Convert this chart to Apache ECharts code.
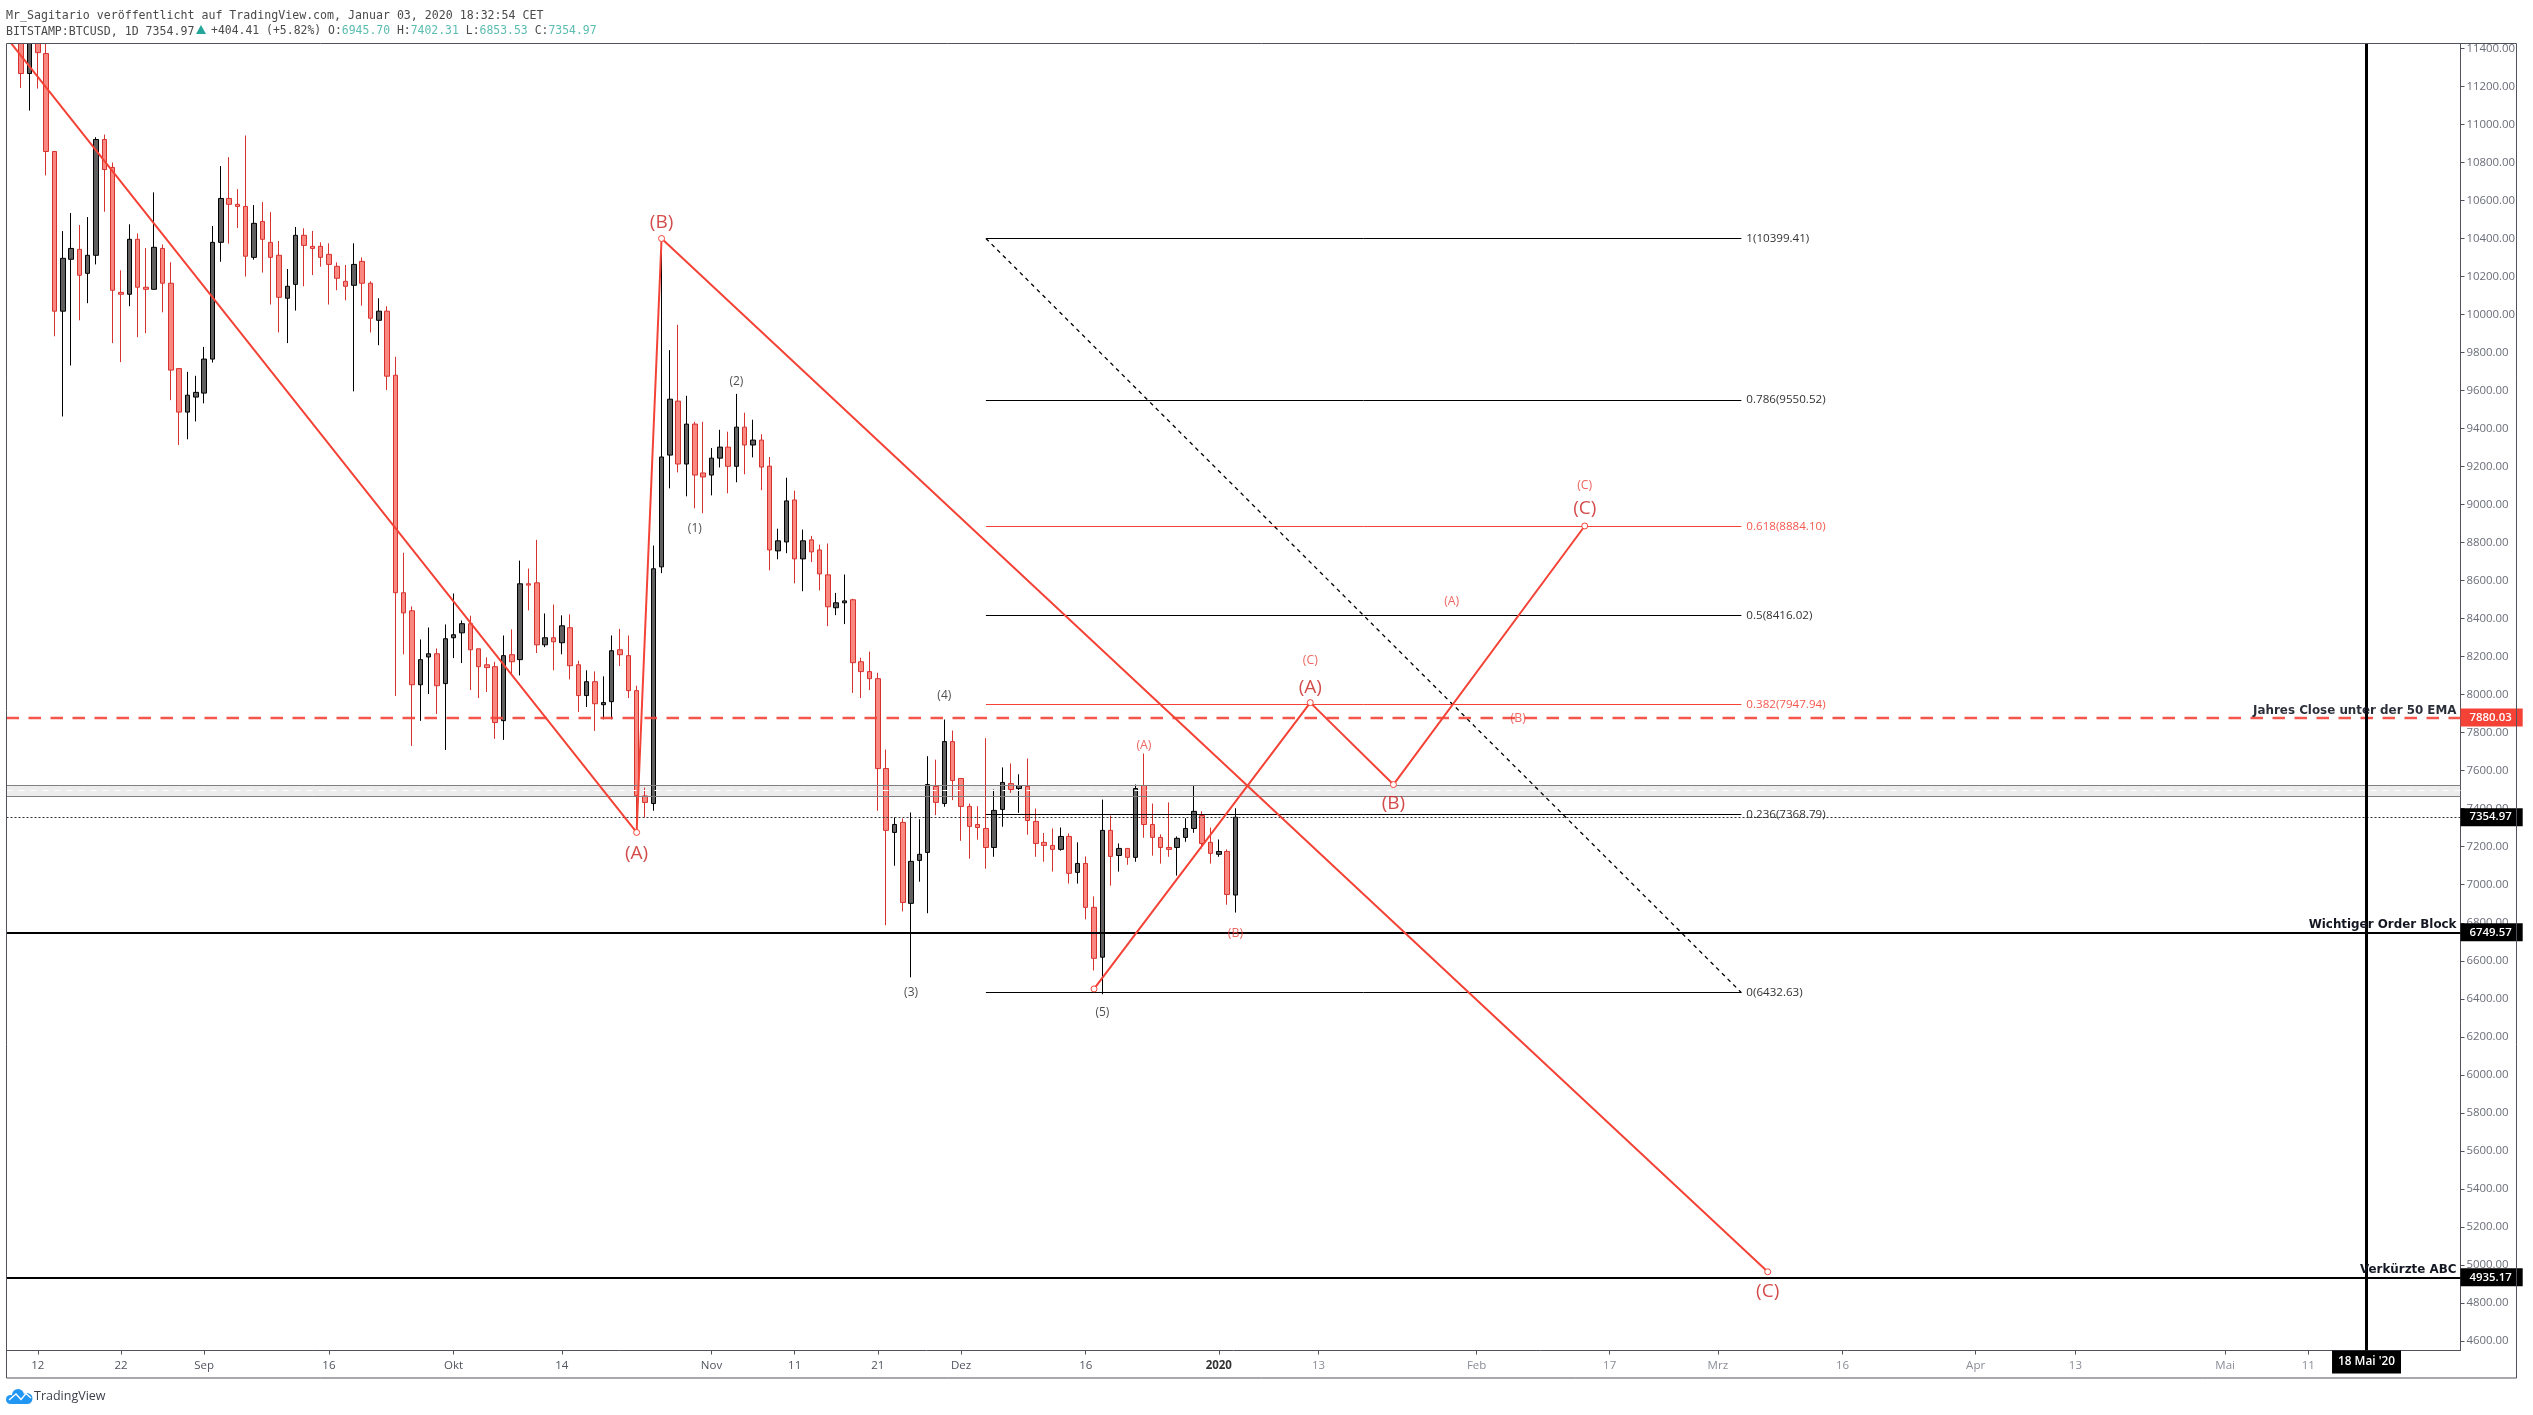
<!DOCTYPE html>
<html>
<head>
<meta charset="utf-8">
<title>BTCUSD daily</title>
<script src="https://cdn.jsdelivr.net/npm/echarts@6/dist/echarts.min.js"></script>
<style>
html, body { margin: 0; padding: 0; background: #fff; }
#chart { width: 2533px; height: 1415px; }
</style>
</head>
<body>
<div id="chart"></div>
<script>
// Daily BTCUSD bars, first bar on 2019-08-10, one bar per calendar day.
const firstBarDay = '2019-08-10';
const opens = [11550,11267,11500,11372,10857,10017,10290,10342,10216,10311,10920,10773,10116,10106,10395,10143,10132,10347,10164,9715,9486,9565,9586,9765,10379,10610,10579,10568,10300,10489,10379,10311,10085,10158,10416,10358,10358,10316,10253,10174,10153,10279,10164,9969,10017,9680,8536,8441,8052,8198,8215,8058,8299,8325,8373,8241,8157,8147,7863,8210,8184,8583,8588,8262,8299,8273,8352,8157,7995,8068,7947,7963,8236,8205,8021,7467,7427,8672,9260,9544,9213,9423,9166,9155,9244,9302,9201,9407,9313,9339,9202,8756,8803,9024,8714,8814,8761,8630,8457,8483,8499,8173,8121,8084,7611,7275,7328,6902,7128,7170,7517,7427,7753,7559,7412,7317,7296,7196,7396,7532,7506,7517,7333,7223,7207,7186,7254,7065,7112,6881,6619,7286,7154,7191,7144,7522,7317,7249,7196,7196,7249,7296,7364,7223,7160,7175,6945.7];
const closes = [11267,11500,11377,10857,10017,10295,10347,10206,10311,10920,10762,10127,10106,10395,10143,10132,10353,10164,9707,9486,9575,9590,9765,10379,10610,10579,10568,10306,10479,10395,10300,10090,10148,10416,10363,10347,10300,10263,10190,10148,10263,10164,9980,10017,9675,8536,8430,8052,8184,8215,8047,8294,8315,8373,8236,8147,8142,7853,8205,8173,8583,8576,8262,8299,8278,8362,8152,7995,8068,7952,7958,8231,8210,8021,7469,7433,8662,9250,9554,9213,9423,9155,9145,9244,9302,9201,9407,9313,9339,9197,8761,8809,9019,8714,8809,8751,8635,8462,8483,8493,8168,8121,8084,7611,7286,7317,6907,7123,7160,7527,7433,7753,7548,7412,7307,7301,7196,7391,7538,7501,7522,7338,7217,7207,7186,7254,7060,7112,6881,6613,7286,7149,7191,7144,7506,7317,7249,7196,7186,7244,7296,7386,7217,7165,7175,6949,7354.97];
const lows = [11191,11072,11188,10731,9885,9463,9731,9969,10059,10263,10540,9849,9749,10043,9880,9901,10132,10011,9549,9313,9343,9437,9532,9747,10277,10372,10454,10199,10288,10220,10052,9905,9849,10020,10148,10207,10251,10052,10127,10074,9595,10046,9905,9838,9602,7993,8212,7730,7862,8003,7898,7709,8192,8166,8024,7982,8014,7767,7762,8110,8101,8443,8219,8250,8128,8212,8080,7909,7935,7809,7870,7870,8150,7982,7300,7354,7389,8639,9085,9169,9043,8980,8954,9048,9195,9059,9117,9159,9248,9075,8654,8712,8744,8586,8544,8697,8548,8360,8418,8371,8009,7982,8024,7389,6787,7100,6860,6513,7016,6850,7366,7410,7445,7231,7137,7237,7084,7147,7305,7483,7378,7263,7147,7121,7069,7179,7006,7006,6818,6549,6424,6995,7069,7105,7121,7247,7153,7111,7147,7048,7226,7273,7191,7111,7147,6895,6853.53];
const highs = [11620,11640,11560,11430,10860,10438,10533,10470,10512,10932,10946,10799,10232,10474,10426,10349,10642,10368,10274,9715,9698,9677,9829,10465,10780,10827,10659,10941,10575,10591,10538,10386,10239,10460,10453,10439,10379,10374,10274,10260,10374,10300,10174,10085,10043,9777,8746,8464,8290,8353,8243,8369,8532,8390,8415,8241,8196,8173,8311,8343,8705,8663,8814,8427,8474,8417,8422,8178,8128,8122,8096,8311,8346,8311,8047,7511,8784,10399,9812,9945,9572,9435,9435,9297,9393,9383,9582,9483,9446,9370,9250,8873,9141,9073,8868,8835,8789,8795,8535,8632,8504,8194,8226,8115,7711,7354,7349,7380,7345,7676,7658,7869,7811,7559,7427,7413,7771,7501,7617,7638,7581,7664,7401,7272,7296,7301,7270,7223,7149,6939,7448,7364,7217,7191,7527,7690,7427,7265,7433,7254,7350,7524,7386,7301,7238,7186,7402.31];

// Axis window and tick labels.
const axisStart = '2019-08-08T05:40:00Z';
const axisEnd = '2020-05-29T07:12:00Z';
const priceMin = 4550;
const priceMax = 11425;
const priceTicks = [4600,4800,5000,5200,5400,5600,5800,6000,6200,6400,6600,6800,7000,7200,7400,7600,7800,8000,8200,8400,8600,8800,9000,9200,9400,9600,9800,10000,10200,10400,10600,10800,11000,11200,11400];
const timeTickDays = ['2019-08-12','2019-08-22','2019-09-01','2019-09-16','2019-10-01','2019-10-14','2019-11-01','2019-11-11','2019-11-21','2019-12-01','2019-12-16','2020-01-01','2020-01-13','2020-02-01','2020-02-17','2020-03-01','2020-03-16','2020-04-01','2020-04-13','2020-05-01','2020-05-11'];
const timeTickTexts = ['12','22','Sep','16','Okt','14','Nov','11','21','Dez','16','2020','13','Feb','17','Mrz','16','Apr','13','Mai','11'];

// Elliott wave paths: date and price of each pivot.
const waveDownDays = ['2019-08-08','2019-10-23','2019-10-26','2020-03-07'];
const waveDownPrices = [11470,7275,10399.41,4964];
const waveUpDays = ['2019-12-17','2020-01-12','2020-01-22','2020-02-14'];
const waveUpPrices = [6452,7958,7527,8887];

// Fibonacci retracement drawn between two anchor dates.
const fibStartDay = '2019-12-04';
const fibEndDay = '2020-03-03T20:00:00Z';
const fibRatios = ['1','0.786','0.618','0.5','0.382','0.236','0'];
const fibPrices = [10399.41,9550.52,8884.10,8416.02,7947.94,7368.79,6432.63];
const fibIsRed = [false,false,true,false,true,false,false];

// Horizontal price levels with their captions.
const emaLevel = 7880.03;
const emaCaption = 'Jahres Close unter der 50 EMA';
const orderBlockLevel = 6749.57;
const orderBlockCaption = 'Wichtiger Order Block';
const abcLevel = 4935.17;
const abcCaption = 'Verkürzte ABC';
const lastClose = 7354.97;
const zoneTop = 7525;
const zoneBottom = 7465;
const markerDay = '2020-05-18';
const markerText = "18 Mai '20";

// Wave count captions: [date, price, text].
const countLabels = [['2019-10-30',8873,'(1)'],['2019-11-04',9645,'(2)'],['2019-11-25',6431,'(3)'],['2019-11-29',7996,'(4)'],['2019-12-18',6325,'(5)']];
const minorLabels = [['2019-12-23',7734,'(A)'],['2020-01-03',6741,'(B)'],['2020-01-12',8180,'(C)'],['2020-01-29',8490,'(A)'],['2020-02-06',7876,'(B)'],['2020-02-14',9099,'(C)']];
const majorLabels = [['2019-10-23',7165,'(A)'],['2019-10-26',10485,'(B)'],['2020-01-12',8038,'(A)'],['2020-01-22',7429,'(B)'],['2020-02-14',8978,'(C)'],['2020-03-07',4862,'(C)']];

const RED = '#f44336';
const AXIS_COLOR = '#50535e';
const UI_FONT = '"Open Sans", "Noto Sans", sans-serif';
const MONO_FONT = '"DejaVu Sans Mono", monospace';

const toMs = s => new Date(s.length === 10 ? s + 'T00:00:00Z' : s).getTime();
const DAY_MS = 86400000;

const candles = opens.map((o, i) => [toMs(firstBarDay) + i * DAY_MS, o, closes[i], lows[i], highs[i]]);
const tickMs = timeTickDays.map(toMs);
const tickTextByMs = {};
tickMs.forEach((ms, i) => { tickTextByMs[ms] = timeTickTexts[i]; });
const lastBarMs = candles[candles.length - 1][0];

function horizontal(price, style, label) {
  return { yAxis: price, lineStyle: style, label: label || { show: false } };
}
function priceBox(price, text, bg) {
  return horizontal(price, { color: 'transparent', width: 0 }, {
    show: true, position: 'end', distance: 0, formatter: text, color: '#fff',
    backgroundColor: bg, fontFamily: UI_FONT, fontSize: 11.4, fontWeight: 600,
    padding: [3, 11, 2, 9], lineHeight: 13
  });
}
function captionOnLine(price, text, style) {
  return horizontal(price, style, {
    show: true, position: 'insideEndTop', distance: 1, formatter: text, color: '#131722',
    fontFamily: '"DejaVu Sans", sans-serif', fontSize: 11.9, fontWeight: 'bold', padding: [0, 3, 0, 0]
  });
}
function labelSeries(name, rows, color, size, z) {
  return {
    name, type: 'scatter', symbolSize: 1, z, silent: true,
    itemStyle: { color: 'rgba(0,0,0,0)' },
    data: rows.map(r => [toMs(r[0]), r[1], r[2]]),
    label: { show: true, position: 'inside', color, fontSize: size, fontFamily: UI_FONT, formatter: p => p.data[2] }
  };
}
function waveSeries(name, days, prices) {
  return {
    name, type: 'line', z: 6, animation: false, showAllSymbol: true, symbol: 'circle', symbolSize: 6,
    lineStyle: { color: RED, width: 2 },
    itemStyle: { color: '#fff', borderColor: RED, borderWidth: 1 },
    data: days.map((d, i) => [toMs(d), prices[i]])
  };
}

const fibPairs = fibPrices.map((price, i) => {
  const color = fibIsRed[i] ? RED : '#000';
  return [
    { coord: [toMs(fibStartDay), price], lineStyle: { color, width: 1, type: 'solid' },
      label: { show: true, position: 'end', distance: 5, formatter: fibRatios[i] + '(' + price.toFixed(2) + ')',
        color: fibIsRed[i] ? '#f4594e' : '#333', fontFamily: UI_FONT, fontSize: 11.6 } },
    { coord: [toMs(fibEndDay), price] }
  ];
});

const option = {
  animation: false,
  backgroundColor: '#fff',
  grid: { left: 6.5, top: 43.5, width: 2454, height: 1307, show: false, containLabel: false },
  xAxis: {
    type: 'value', scale: true, min: toMs(axisStart), max: toMs(axisEnd),
    axisLine: { show: true, onZero: false, lineStyle: { color: AXIS_COLOR, width: 1 } },
    axisTick: { show: true, length: 4, customValues: tickMs, lineStyle: { color: AXIS_COLOR } },
    splitLine: { show: false },
    axisLabel: {
      customValues: tickMs, margin: 9, fontSize: 11.5, fontFamily: UI_FONT, color: AXIS_COLOR,
      hideOverlap: false, showMinLabel: true, showMaxLabel: true,
      formatter: v => {
        const text = tickTextByMs[v] || '';
        if (text === '2020') return '{year|2020}';
        return v > lastBarMs ? '{future|' + text + '}' : text;
      },
      rich: {
        year: { fontWeight: 'bold', fontSize: 11.5, fontFamily: UI_FONT, color: '#333' },
        future: { fontSize: 11.5, fontFamily: UI_FONT, color: '#8a8d98' }
      }
    }
  },
  yAxis: {
    type: 'value', position: 'right', min: priceMin, max: priceMax, scale: true,
    axisLine: { show: true, onZero: false, lineStyle: { color: AXIS_COLOR, width: 1 } },
    axisTick: { show: true, length: 4, customValues: priceTicks, lineStyle: { color: AXIS_COLOR } },
    splitLine: { show: false },
    axisLabel: {
      customValues: priceTicks, margin: 6, fontSize: 11.4, fontFamily: UI_FONT, color: '#6a6d78',
      showMinLabel: true, showMaxLabel: true, formatter: v => v.toFixed(2)
    }
  },
  series: [
    {
      name: 'BTCUSD', type: 'candlestick', z: 3, barWidth: 5, clip: true,
      itemStyle: { color: '#5f5f5f', color0: '#f98880', borderColor: '#000', borderColor0: '#d8322f', borderWidth: 1 },
      data: candles
    },
    {
      name: 'Zone', type: 'line', z: 4, data: [], symbol: 'none',
      markArea: {
        silent: true, itemStyle: { color: 'rgba(120,120,120,0.14)' },
        data: [[{ yAxis: zoneTop }, { yAxis: zoneBottom }]]
      },
      markLine: {
        silent: true, symbol: ['none', 'none'], animation: false, precision: 2,
        data: [
          horizontal(zoneTop, { color: '#808080', width: 1, type: 'solid' }),
          horizontal(zoneBottom, { color: '#808080', width: 1, type: 'solid' }),
          horizontal((zoneTop + zoneBottom) / 2, { color: '#fff', width: 1, type: [6, 6] })
        ]
      }
    },
    {
      name: 'Fibonacci', type: 'line', z: 5, data: [], symbol: 'none',
      markLine: {
        silent: true, symbol: ['none', 'none'], animation: false, precision: 2,
        data: fibPairs.concat([[
          { coord: [toMs(fibStartDay), fibPrices[0]], lineStyle: { color: '#000', width: 1.3, type: [4, 4] }, label: { show: false } },
          { coord: [toMs(fibEndDay), fibPrices[6]] }
        ]])
      }
    },
    {
      name: 'Levels', type: 'line', z: 7, data: [], symbol: 'none',
      markLine: {
        silent: true, symbol: ['none', 'none'], animation: false, precision: 2,
        data: [
          horizontal(lastClose, { color: '#333', width: 1, type: [2, 2] }),
          captionOnLine(emaLevel, emaCaption, { color: RED, width: 2.4, type: [12.5, 9.5], opacity: 0.9 }),
          captionOnLine(orderBlockLevel, orderBlockCaption, { color: '#000', width: 2, type: 'solid' }),
          captionOnLine(abcLevel, abcCaption, { color: '#000', width: 2, type: 'solid' }),
          priceBox(emaLevel, emaLevel.toFixed(2), RED),
          priceBox(lastClose, lastClose.toFixed(2), '#000'),
          priceBox(orderBlockLevel, orderBlockLevel.toFixed(2), '#000'),
          priceBox(abcLevel, abcLevel.toFixed(2), '#000'),
          {
            xAxis: toMs(markerDay), lineStyle: { color: '#000', width: 3, type: 'solid' },
            label: {
              show: true, position: 'start', distance: 0, formatter: markerText, color: '#fff', backgroundColor: '#000',
              fontFamily: UI_FONT, fontSize: 11.8, fontWeight: 600, padding: [5, 6, 5, 6], lineHeight: 13
            }
          }
        ]
      }
    },
    waveSeries('Wave down', waveDownDays, waveDownPrices),
    waveSeries('Wave up', waveUpDays, waveUpPrices),
    labelSeries('Count', countLabels, '#222', 12, 8),
    labelSeries('Minor', minorLabels, '#e8403a', 12.3, 8),
    labelSeries('Major', majorLabels, '#c81e1e', 19, 8)
  ],
  graphic: [
    // Header strip: bars that run past the top of the pane stop at its edge
    { type: 'rect', silent: true, z: 50, shape: { x: 0, y: 0, width: 2533, height: 43 }, style: { fill: '#fff' } },
    // Pane frame around the price and time scales
    { type: 'rect', silent: true, z: 51, shape: { x: 6.5, y: 43.5, width: 2510, height: 1334.5 }, style: { fill: 'none', stroke: AXIS_COLOR, lineWidth: 1 } },
    // Publication header
    { type: 'text', silent: true, z: 51, x: 6, y: 10, style: { text: 'Mr_Sagitario veröffentlicht auf TradingView.com, Januar 03, 2020 18:32:54 CET', font: '11.6px ' + MONO_FONT, fill: '#4a4a4a' } },
    { type: 'text', silent: true, z: 51, x: 6, y: 26, style: { text: 'BITSTAMP:BTCUSD, 1D 7354.97', font: '11.6px ' + MONO_FONT, fill: '#4a4a4a' } },
    { type: 'polygon', silent: true, z: 51, shape: { points: [[196, 34], [206, 34], [201, 25]] }, style: { fill: '#26a69a' } },
    { type: 'text', silent: true, z: 51, x: 211, y: 26, style: {
      text: '+404.41 (+5.82%) O:{v|6945.70} H:{v|7402.31} L:{v|6853.53} C:{v|7354.97}',
      font: '11.45px ' + MONO_FONT, fill: '#4a4a4a',
      rich: { v: { font: '11.45px ' + MONO_FONT, fill: '#5bbcb0' } }
    } },
    // Logo and wordmark in the footer
    { type: 'group', silent: true, x: 6, y: 1389, children: [
      { type: 'circle', shape: { cx: 4.5, cy: 10.5, r: 4.5 }, style: { fill: '#2196f3' } },
      { type: 'circle', shape: { cx: 12, cy: 6, r: 6 }, style: { fill: '#2196f3' } },
      { type: 'circle', shape: { cx: 21, cy: 9.5, r: 5.5 }, style: { fill: '#2196f3' } },
      { type: 'rect', shape: { x: 4, y: 8, width: 18, height: 7 }, style: { fill: '#2196f3' } },
      { type: 'polyline', shape: { points: [[3, 11], [10, 5], [15, 10.5], [20, 4.5], [25, 9]] }, style: { stroke: '#fff', lineWidth: 1.4, fill: 'none' } }
    ] },
    { type: 'text', silent: true, x: 34, y: 1390, style: { text: 'TradingView', font: '12.5px ' + UI_FONT, fill: '#3c3f4a' } }
  ]
};

const chart = echarts.init(document.getElementById('chart'), null, { renderer: 'canvas', width: 2533, height: 1415 });
chart.setOption(option);
</script>
</body>
</html>
